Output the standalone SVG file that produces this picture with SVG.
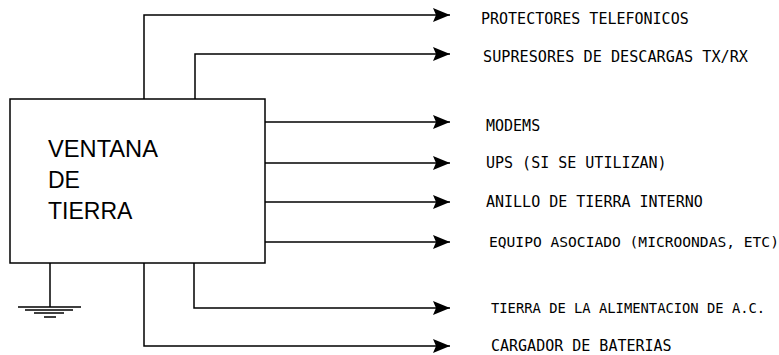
<svg xmlns="http://www.w3.org/2000/svg" width="779" height="355" viewBox="0 0 779 355">
<style>
.ln{fill:none;stroke:#000;stroke-width:1.5;}
.lbl{font-family:"DejaVu Sans Mono","Liberation Mono",monospace;font-size:15px;fill:#000;}
.big{font-family:"Liberation Sans",Arial,sans-serif;font-size:23px;fill:#000;}
</style>
<defs>
<marker id="ah" markerUnits="userSpaceOnUse" markerWidth="18" markerHeight="16" refX="17" refY="8" orient="auto">
<path d="M0,1 L17,8 L0,15 L3,8 Z" fill="#000"/>
</marker>
</defs>
<rect width="779" height="355" fill="#fff"/>
<g id="ventana">
<rect class="ln" x="10" y="99" width="255" height="164"/>
<text class="big" x="48" y="157" textLength="110" lengthAdjust="spacingAndGlyphs">VENTANA</text>
<text class="big" x="48" y="188">DE</text>
<text class="big" x="48" y="219">TIERRA</text>
</g>
<g id="ground">
<path class="ln" d="M50 263 V307"/>
<path class="ln" d="M18 307 H81 M25 310 H73 M34 313 H64 M44 317 H56"/>
</g>
<g id="connectors">
<path class="ln" marker-end="url(#ah)" d="M144 99 V15 H450"/>
<path class="ln" marker-end="url(#ah)" d="M195 99 V54 H450"/>
<path class="ln" marker-end="url(#ah)" d="M265 122 H450"/>
<path class="ln" marker-end="url(#ah)" d="M265 163 H450"/>
<path class="ln" marker-end="url(#ah)" d="M265 202 H450"/>
<path class="ln" marker-end="url(#ah)" d="M265 242 H450"/>
<path class="ln" marker-end="url(#ah)" d="M194 263 V308 H450"/>
<path class="ln" marker-end="url(#ah)" d="M144 263 V346 H450"/>
</g>
<g id="n1"><text class="lbl" x="481" y="24">PROTECTORES TELEFONICOS</text></g>
<g id="n2"><text class="lbl" x="483" y="62" textLength="265" lengthAdjust="spacingAndGlyphs">SUPRESORES DE DESCARGAS TX/RX</text></g>
<g id="n3"><text class="lbl" x="486" y="131">MODEMS</text></g>
<g id="n4"><text class="lbl" x="486" y="168">UPS (SI SE UTILIZAN)</text></g>
<g id="n5"><text class="lbl" x="486" y="207">ANILLO DE TIERRA INTERNO</text></g>
<g id="n6"><text class="lbl" x="489" y="247" style="font-size:14.6px">EQUIPO ASOCIADO (MICROONDAS, ETC)</text></g>
<g id="n7"><text class="lbl" x="491" y="313" style="font-size:13.8px">TIERRA DE LA ALIMENTACION DE A.C.</text></g>
<g id="n8"><text class="lbl" x="491" y="351">CARGADOR DE BATERIAS</text></g>
</svg>
